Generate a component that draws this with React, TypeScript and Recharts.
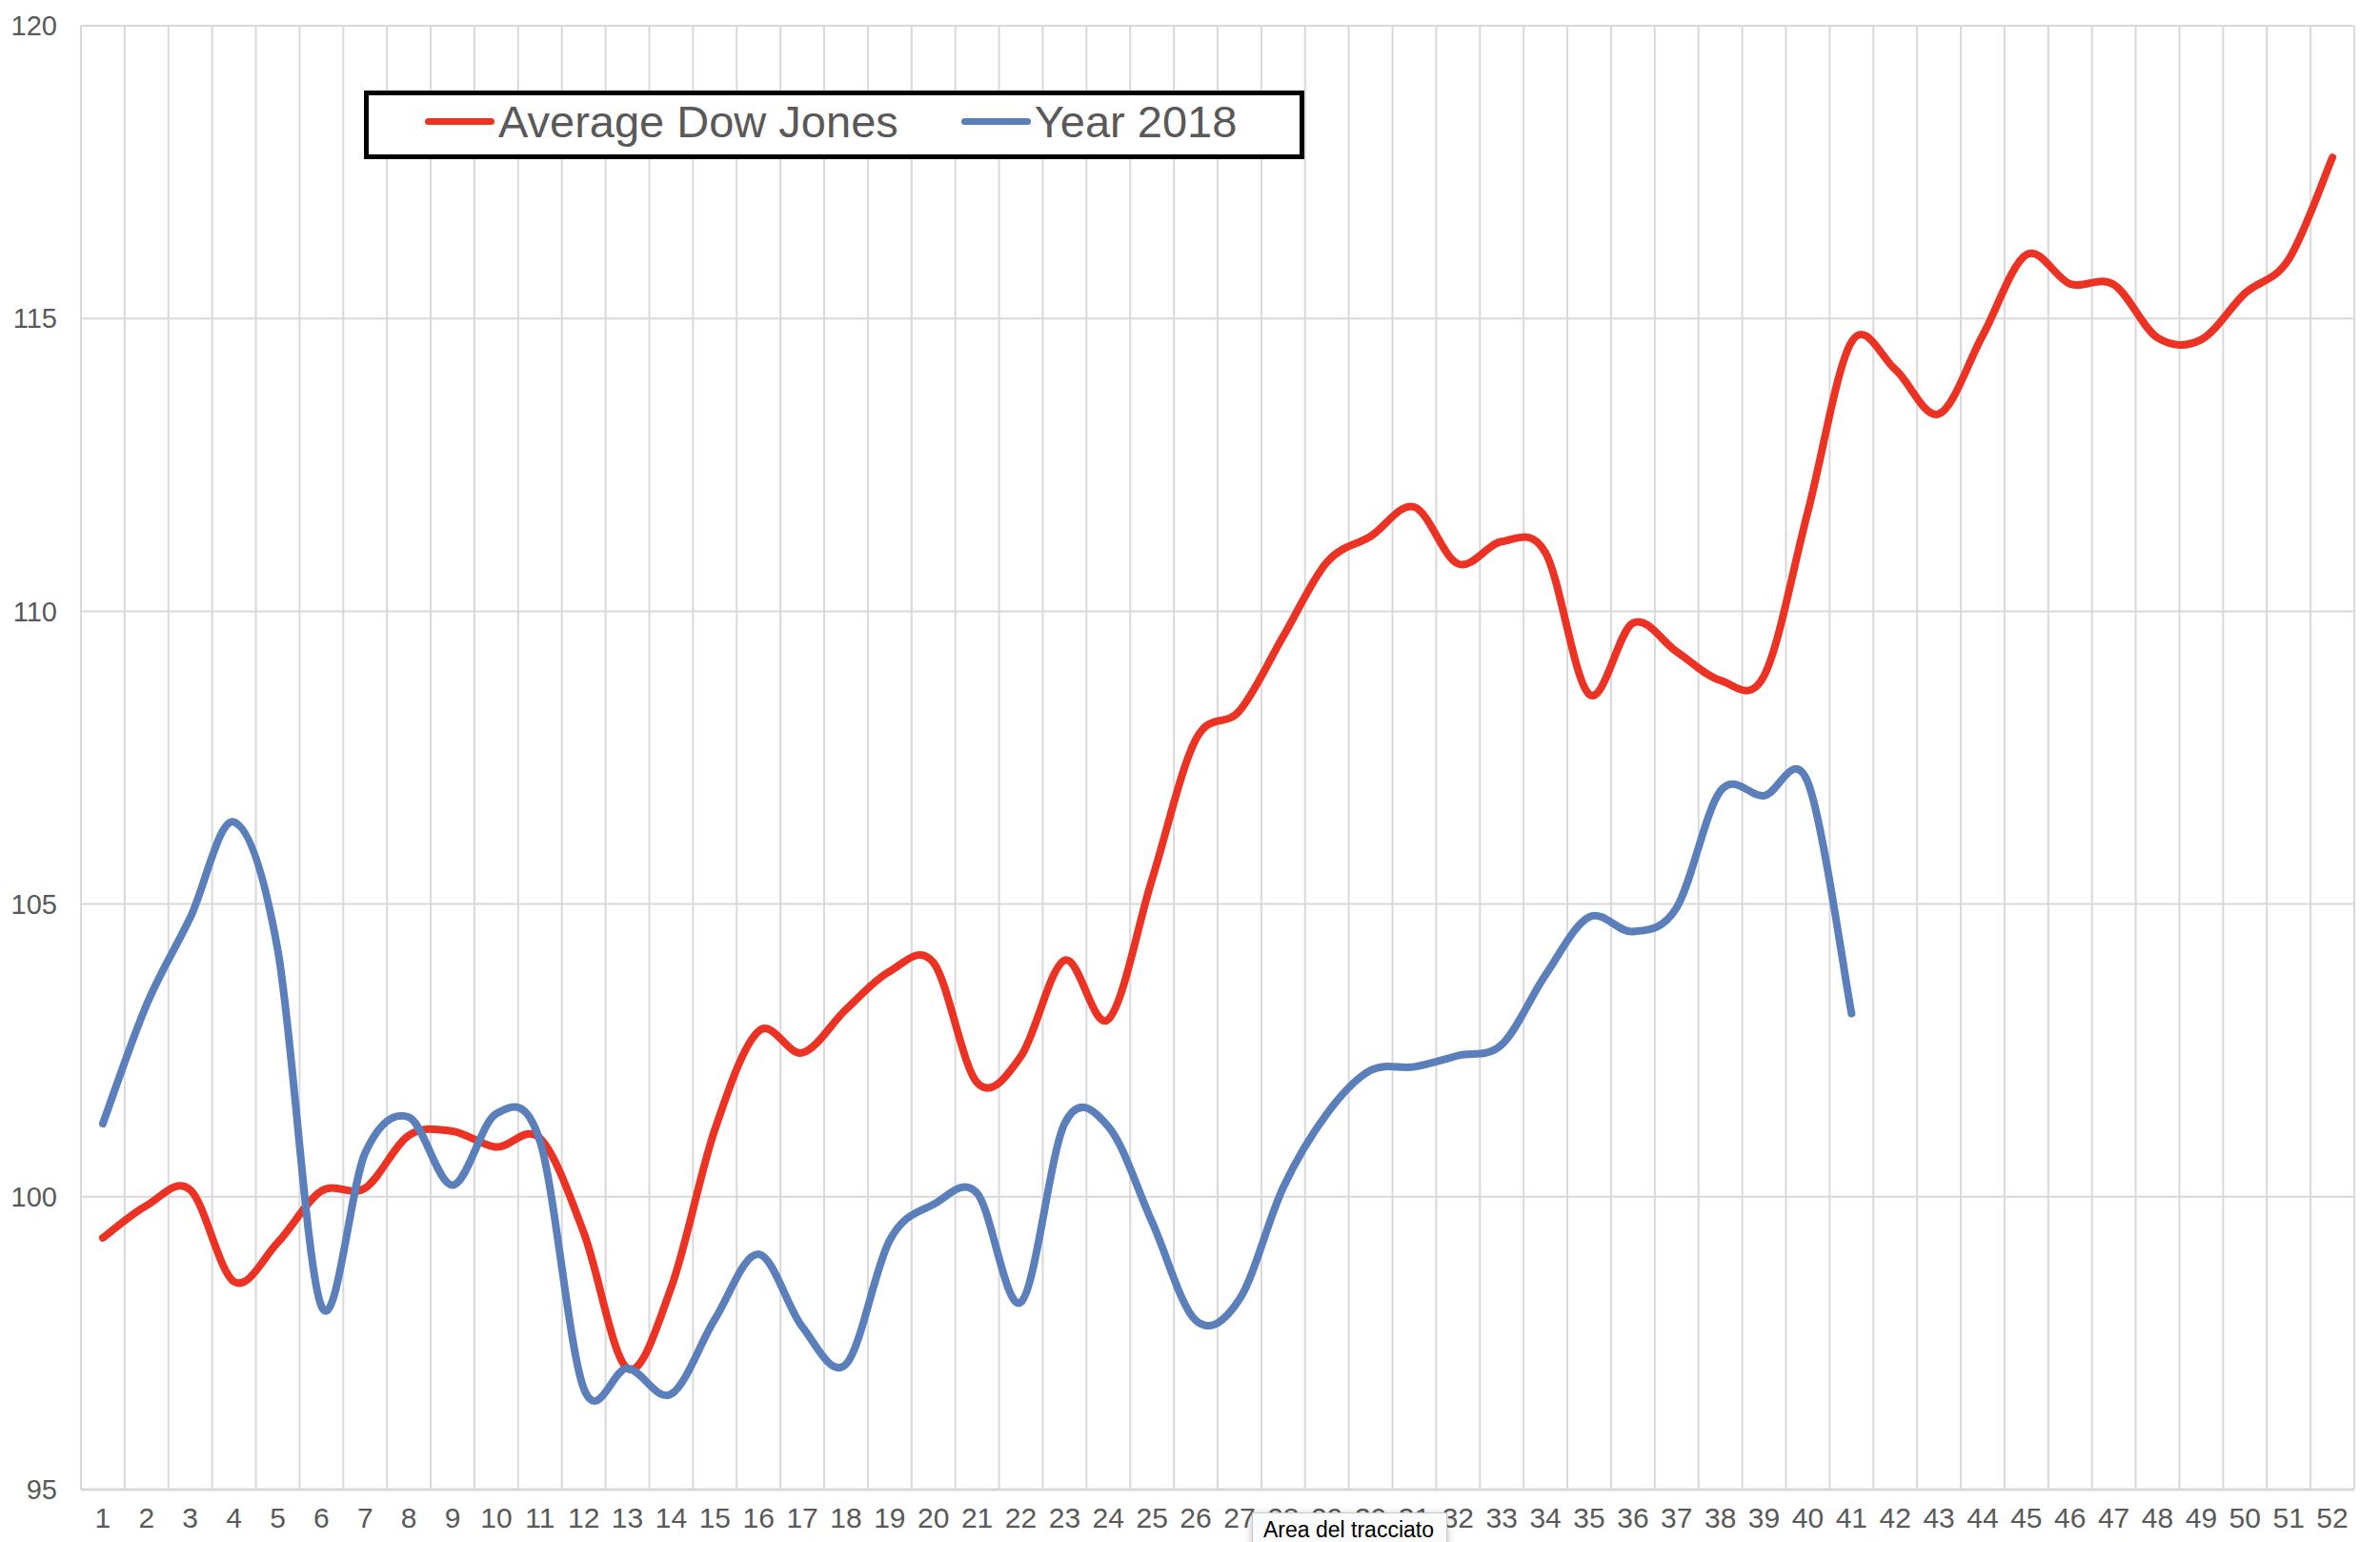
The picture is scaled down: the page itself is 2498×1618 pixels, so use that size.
import { LineChart, Line, XAxis, YAxis, CartesianGrid } from "recharts";

const weeks = [
  "1", "2", "3", "4", "5", "6", "7", "8", "9", "10",
  "11", "12", "13", "14", "15", "16", "17", "18", "19", "20",
  "21", "22", "23", "24", "25", "26", "27", "28", "29", "30",
  "31", "32", "33", "34", "35", "36", "37", "38", "39", "40",
  "41", "42", "43", "44", "45", "46", "47", "48", "49", "50",
  "51", "52",
];

const averageDowJones = [
  99.3, 99.85, 100.12, 98.55, 99.22, 100.1, 100.15, 101.05, 101.12, 100.85,
  101.0, 99.39, 97.07, 98.45, 101.15, 102.83, 102.46, 103.2, 103.85, 104.0,
  101.95, 102.4, 104.04, 103.03, 105.42, 107.81, 108.3, 109.57, 110.84, 111.28,
  111.78, 110.81, 111.19, 111.0, 108.58, 109.8, 109.31, 108.82, 108.9, 111.7,
  114.6, 114.13, 113.37, 114.71, 116.09, 115.59, 115.58, 114.67, 114.64, 115.43,
  116.01, 117.75,
];

const year2018: (number | null)[] = [
  101.25, 103.28, 104.77, 106.4, 104.22, 98.13, 100.75, 101.36, 100.2, 101.42,
  100.95, 96.73, 97.07, 96.63, 97.91, 99.02, 97.78, 97.14, 99.26, 99.87,
  100.06, 98.2, 101.25, 101.2, 99.57, 97.89, 98.25, 100.16, 101.42, 102.16,
  102.22, 102.41, 102.6, 103.79, 104.78, 104.53, 104.94, 106.93, 106.85, 107.08,
  103.13, null, null, null, null, null, null, null, null, null,
  null, null,
];

const yTicks = [95, 100, 105, 110, 115, 120];

const series = [
  { key: "avg", name: "Average Dow Jones", color: "#EB3223" },
  { key: "y2018", name: "Year 2018", color: "#5A7FBB" },
];

const data = weeks.map((w, i) => ({
  week: w,
  avg: averageDowJones[i],
  y2018: year2018[i],
}));

const FONT = '"Liberation Sans", Arial, Helvetica, sans-serif';
const TEXT = "#595959";
const GRID = "#d9d9d9";

// excel-like smoothing: bezier with control points at 1/6 of neighbour span
function excelCurve(context: any) {
  let pts: number[][] = [];
  return {
    areaStart() {},
    areaEnd() {},
    lineStart() {
      pts = [];
    },
    lineEnd() {
      if (!pts.length) return;
      context.moveTo(pts[0][0], pts[0][1]);
      for (let i = 0; i < pts.length - 1; i++) {
        const p0 = pts[i - 1] || pts[i];
        const p1 = pts[i];
        const p2 = pts[i + 1];
        const p3 = pts[i + 2] || p2;
        context.bezierCurveTo(
          p1[0] + (p2[0] - p0[0]) / 6,
          p1[1] + (p2[1] - p0[1]) / 6,
          p2[0] - (p3[0] - p1[0]) / 6,
          p2[1] - (p3[1] - p1[1]) / 6,
          p2[0],
          p2[1]
        );
      }
    },
    point(x: number, y: number) {
      pts.push([+x, +y]);
    },
  };
}

function LegendBox() {
  return (
    <div
      style={{
        position: "absolute",
        left: 382,
        top: 95,
        width: 987,
        height: 72,
        boxSizing: "border-box",
        border: "5px solid #000",
        background: "#fff",
        display: "flex",
        alignItems: "center",
        paddingLeft: 59,
        paddingBottom: 8,
        fontFamily: FONT,
        fontSize: 47,
        color: TEXT,
      }}
    >
      {series.map((s, i) => (
        <div
          key={s.key}
          style={{ display: "flex", alignItems: "center", marginLeft: i ? 66 : 0 }}
        >
          <div
            style={{
              width: 73,
              height: 7,
              borderRadius: 4,
              background: s.color,
              marginRight: 4,
            }}
          />
          <span style={{ lineHeight: 1 }}>{s.name}</span>
        </div>
      ))}
    </div>
  );
}

export default function App() {
  return (
    <div
      style={{
        position: "absolute",
        left: 0,
        top: 0,
        width: 2498,
        height: 1618,
        overflow: "hidden",
        background: "#fff",
      }}
    >
      <LineChart
        width={2498}
        height={1618}
        data={data}
        margin={{ top: 27, right: 27, left: 0, bottom: 0 }}
      >
        <CartesianGrid
          stroke={GRID}
          strokeWidth={2}
          verticalCoordinatesGenerator={({ offset }: any) =>
            weeks.concat([""]).map((_, i) => offset.left + (i * offset.width) / weeks.length)
          }
        />
        <XAxis
          dataKey="week"
          scale="band"
          interval={0}
          height={55}
          axisLine={{ stroke: GRID, strokeWidth: 3 }}
          tickLine={false}
          tickSize={0}
          tickMargin={19}
          tick={{ fill: TEXT, fontSize: 30, fontFamily: FONT }}
        />
        <YAxis
          width={85}
          domain={[95, 120]}
          ticks={yTicks}
          axisLine={false}
          tickLine={false}
          tickSize={0}
          tickMargin={25}
          tick={{ fill: TEXT, fontSize: 29, fontFamily: FONT }}
        />
        {series.map((s) => (
          <Line
            key={s.key}
            dataKey={s.key}
            name={s.name}
            type={excelCurve as any}
            stroke={s.color}
            strokeWidth={8}
            strokeLinecap="round"
            strokeLinejoin="round"
            dot={false}
            activeDot={false}
            isAnimationActive={false}
          />
        ))}
      </LineChart>
      <LegendBox />
      <div
        style={{
          position: "absolute",
          left: 1314,
          top: 1587,
          width: 205,
          height: 44,
          boxSizing: "border-box",
          background: "#fbfbfb",
          border: "1px solid #c9c9c9",
          boxShadow: "0 2px 8px rgba(0,0,0,0.25)",
          fontFamily: FONT,
          fontSize: 23,
          color: "#000",
          padding: "4px 0 0 11px",
          whiteSpace: "nowrap",
        }}
      >
        Area del tracciato
      </div>
    </div>
  );
}
